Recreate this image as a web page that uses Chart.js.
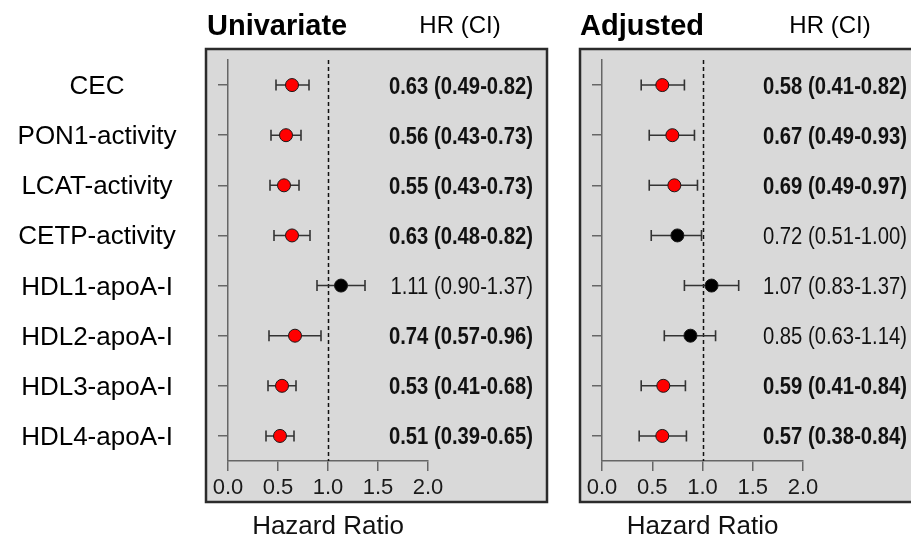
<!DOCTYPE html>
<html>
<head>
<meta charset="utf-8">
<title>Hazard ratios</title>
<script src="https://cdn.jsdelivr.net/npm/chart.js@4.4.1/dist/chart.umd.min.js"></script>
<style>
  html, body { margin: 0; padding: 0; background: #fff; }
  #wrap { position: relative; width: 911px; height: 542px; overflow: hidden; }
  canvas { position: absolute; top: 0; }
  #uniChart { left: 0; }
  #adjChart { left: 560px; }
</style>
</head>
<body>
<div id="wrap">
  <canvas id="uniChart" width="560" height="542"></canvas>
  <canvas id="adjChart" width="351" height="542"></canvas>
</div>
<script>
const rowLabels = ['CEC', 'PON1-activity', 'LCAT-activity', 'CETP-activity',
  'HDL1-apoA-I', 'HDL2-apoA-I', 'HDL3-apoA-I', 'HDL4-apoA-I'];
const xTicks = [0, 0.5, 1, 1.5, 2];

// univariate: point and CI ends as they are drawn
const uniHR = [0.64, 0.58, 0.56, 0.64, 1.13, 0.67, 0.54, 0.52];
const uniLo = [0.48, 0.43, 0.42, 0.46, 0.89, 0.41, 0.40, 0.38];
const uniHi = [0.81, 0.73, 0.71, 0.82, 1.37, 0.93, 0.68, 0.66];
const uniSig = [true, true, true, true, false, true, true, true];
const uniText = ['0.63 (0.49-0.82)', '0.56 (0.43-0.73)', '0.55 (0.43-0.73)', '0.63 (0.48-0.82)',
  '1.11 (0.90-1.37)', '0.74 (0.57-0.96)', '0.53 (0.41-0.68)', '0.51 (0.39-0.65)'];

// adjusted
const adjHR = [0.60, 0.70, 0.72, 0.75, 1.09, 0.88, 0.61, 0.60];
const adjLo = [0.39, 0.47, 0.47, 0.49, 0.82, 0.62, 0.39, 0.37];
const adjHi = [0.82, 0.92, 0.95, 0.99, 1.36, 1.13, 0.83, 0.84];
const adjSig = [true, true, true, false, false, false, true, true];
const adjText = ['0.58 (0.41-0.82)', '0.67 (0.49-0.93)', '0.69 (0.49-0.97)', '0.72 (0.51-1.00)',
  '1.07 (0.83-1.37)', '0.85 (0.63-1.14)', '0.59 (0.41-0.84)', '0.57 (0.38-0.84)'];

const FONT = '"Liberation Sans", Arial, Helvetica, sans-serif';

function narrowText(ctx, str, x, y, sx) {
  ctx.save();
  ctx.translate(x, y);
  ctx.scale(sx, 1);
  ctx.fillText(str, 0, 0);
  ctx.restore();
}

function makeForest(cfg) {
  return {
    id: 'forest',
    beforeDraw(chart) {
      const ctx = chart.ctx;
      ctx.save();
      // grey panel
      ctx.fillStyle = '#d9d9d9';
      ctx.fillRect(cfg.box[0], cfg.box[1], cfg.box[2], cfg.box[3]);
      ctx.lineWidth = 2.5;
      ctx.strokeStyle = '#2b2b2b';
      ctx.strokeRect(cfg.box[0], cfg.box[1], cfg.box[2], cfg.box[3]);

      ctx.fillStyle = '#000';
      ctx.textBaseline = 'alphabetic';
      ctx.textAlign = 'left';
      ctx.font = 'bold 29px ' + FONT;
      ctx.fillText(cfg.title, cfg.titleX, 35);
      ctx.textAlign = 'center';
      ctx.font = '24px ' + FONT;
      ctx.fillText('HR (CI)', cfg.headX, 33);
      ctx.restore();
    },
    beforeDatasetsDraw(chart) {
      const { ctx, chartArea, scales } = chart;
      const x = scales.x, y = scales.y;
      ctx.save();
      // reference line at HR = 1
      ctx.strokeStyle = '#111';
      ctx.lineWidth = 1.5;
      ctx.setLineDash([4, 3]);
      const x1 = Math.round(x.getPixelForValue(1)) + 0.5;
      ctx.beginPath();
      ctx.moveTo(x1, chartArea.top);
      ctx.lineTo(x1, chartArea.bottom);
      ctx.stroke();
      ctx.setLineDash([]);

      // CI whiskers
      ctx.strokeStyle = '#333';
      ctx.lineWidth = 1.6;
      cfg.lo.forEach((lo, i) => {
        const yp = y.getPixelForValue(i);
        const a = x.getPixelForValue(lo);
        const b = x.getPixelForValue(cfg.hi[i]);
        ctx.beginPath();
        ctx.moveTo(a, yp); ctx.lineTo(b, yp);
        ctx.moveTo(a, yp - 5.5); ctx.lineTo(a, yp + 5.5);
        ctx.moveTo(b, yp - 5.5); ctx.lineTo(b, yp + 5.5);
        ctx.stroke();
      });
      ctx.restore();
    },
    afterDatasetsDraw(chart) {
      const { ctx, scales } = chart;
      const y = scales.y;
      ctx.save();
      ctx.fillStyle = '#111';
      ctx.textBaseline = 'alphabetic';
      ctx.textAlign = 'right';
      cfg.text.forEach((t, i) => {
        ctx.font = (cfg.sig[i] ? 'bold ' : '') + '23px ' + FONT;
        narrowText(ctx, t, cfg.textRight, y.getPixelForValue(i) + 8.5, 0.88);
      });
      if (cfg.rowNames) {
        ctx.fillStyle = '#000';
        ctx.textAlign = 'center';
        ctx.font = '26px ' + FONT;
        rowLabels.forEach((lab, i) => {
          ctx.fillText(lab, 97, y.getPixelForValue(i) + 9);
        });
      }
      ctx.restore();
    }
  };
}

function makeChart(id, cfg) {
  return new Chart(document.getElementById(id), {
    type: 'scatter',
    data: {
      datasets: [{
        data: cfg.hr.map((v, i) => ({ x: v, y: rowLabels[i] })),
        pointRadius: 6.5,
        pointHoverRadius: 6.5,
        pointBackgroundColor: cfg.sig.map(s => s ? '#ff0000' : '#000000'),
        pointBorderColor: '#1a1a1a',
        pointBorderWidth: 1
      }]
    },
    options: {
      responsive: false,
      animation: false,
      events: [],
      layout: { padding: { left: cfg.padLeft, right: cfg.padRight, top: 60, bottom: 0 } },
      plugins: { legend: { display: false }, tooltip: { enabled: false } },
      scales: {
        x: {
          type: 'linear',
          min: 0,
          max: 2,
          afterBuildTicks: s => { s.ticks = xTicks.map(v => ({ value: v })); },
          afterFit: s => { s.height = 81; },
          grid: { drawOnChartArea: false, drawTicks: true, tickLength: 10, color: '#666', lineWidth: 1.5 },
          border: { display: true, color: '#666', width: 1.5 },
          ticks: {
            padding: 4,
            color: '#1a1a1a',
            font: { family: FONT, size: 22 },
            callback: v => Number(v).toFixed(1)
          },
          title: {
            display: true,
            text: 'Hazard Ratio',
            color: '#111',
            font: { family: FONT, size: 26 },
            padding: { top: 0, bottom: 0 }
          }
        },
        y: {
          type: 'category',
          labels: rowLabels,
          offset: true,
          afterFit: s => { s.width = 10; },
          grid: { drawOnChartArea: false, drawTicks: true, tickLength: 10, color: '#666', lineWidth: 1.5 },
          border: { display: true, color: '#666', width: 1.5 },
          ticks: { display: false }
        }
      }
    },
    plugins: [makeForest(cfg)]
  });
}

makeChart('uniChart', {
  hr: uniHR, lo: uniLo, hi: uniHi, sig: uniSig, text: uniText,
  title: 'Univariate', titleX: 207, headX: 460,
  box: [206, 49, 341, 453], textRight: 533,
  padLeft: 218, padRight: 132, rowNames: true
});

makeChart('adjChart', {
  hr: adjHR, lo: adjLo, hi: adjHi, sig: adjSig, text: adjText,
  title: 'Adjusted', titleX: 20, headX: 270,
  box: [20, 49, 345, 453], textRight: 347,
  padLeft: 32, padRight: 108, rowNames: false
});
</script>
</body>
</html>
